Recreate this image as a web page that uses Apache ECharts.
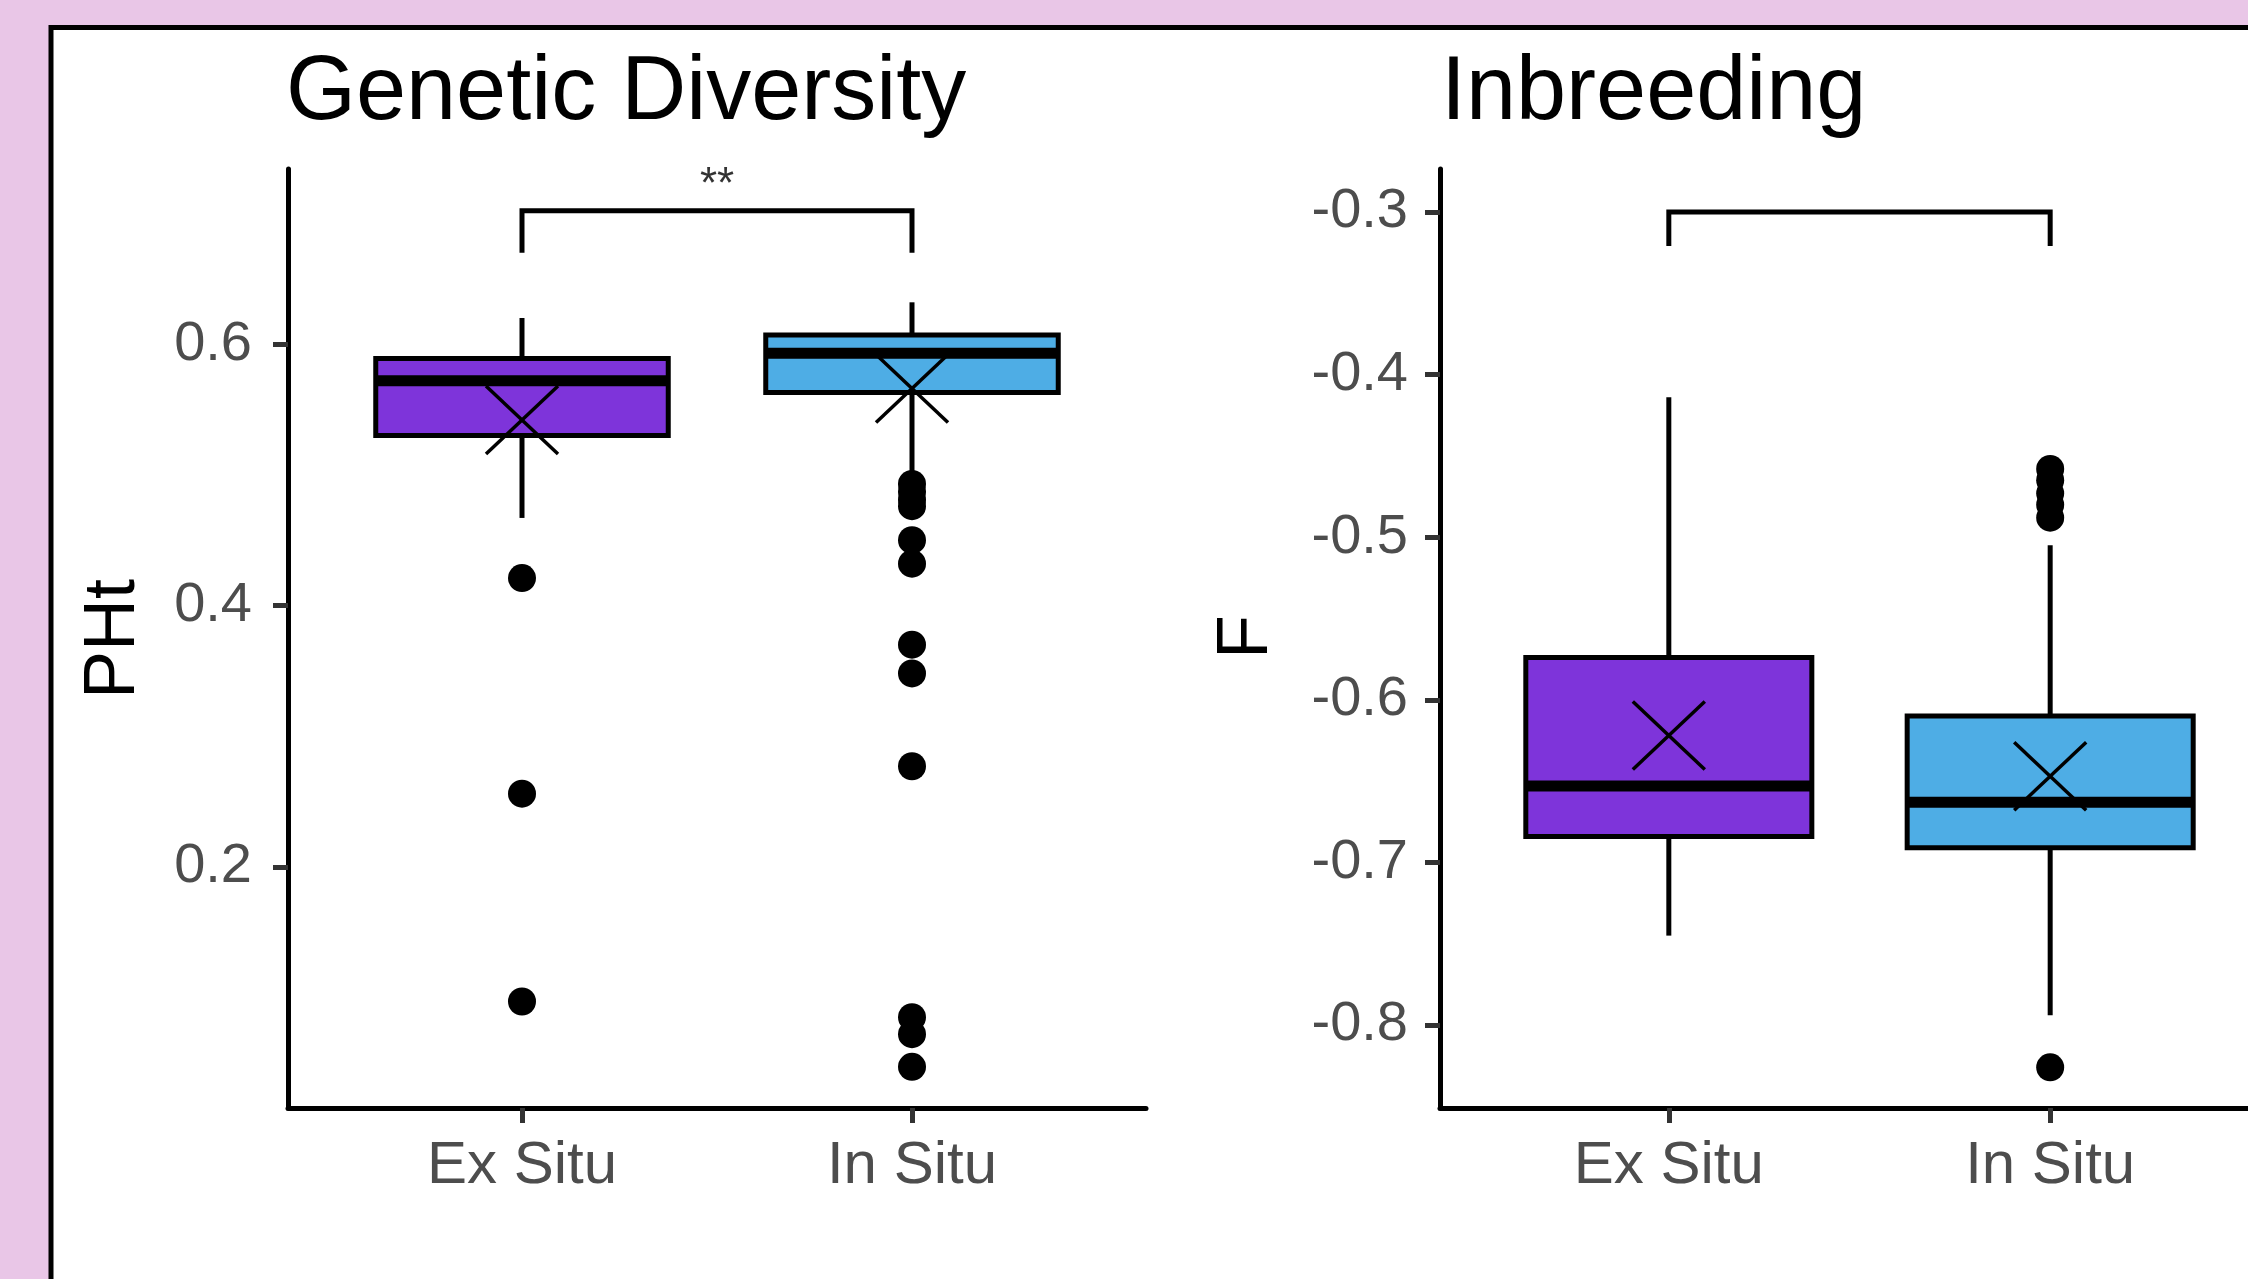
<!DOCTYPE html>
<html>
<head>
<meta charset="utf-8">
<script src="https://cdn.jsdelivr.net/npm/echarts@6/dist/echarts.min.js"></script>
<style>
html,body{margin:0;padding:0;background:#E9C6E7;overflow:hidden;width:2248px;height:1279px;}
#chart{width:2300px;height:1279px;}
</style>
</head>
<body>
<div id="chart"></div>
<script>
// ---------- data ----------
const categories = ['Ex Situ', 'In Situ'];
const categoryPos = [1, 2];

// [min whisker, Q1, median, Q3, max whisker]
const phtStats = [
  [0.467, 0.530, 0.572, 0.589, 0.620],
  [0.502, 0.563, 0.593, 0.607, 0.632]
];
const phtMeans = [0.542, 0.566];
const phtOutliersExSitu = [0.421, 0.256, 0.097];
const phtOutliersInSitu = [0.493, 0.487, 0.481, 0.476, 0.450, 0.432, 0.370, 0.348, 0.277, 0.085, 0.072, 0.047];
const phtTicks = [0.2, 0.4, 0.6];
const phtRange = [0.0155, 0.734];
const phtBracket = [0.670, 0.702];   // [leg end, bar]
const phtSignif = '**';
const phtSignifY = 0.721;

const fStats = [
  [-0.745, -0.684, -0.653, -0.574, -0.414],
  [-0.794, -0.691, -0.663, -0.610, -0.505]
];
const fMeans = [-0.622, -0.647];
const fOutliersExSitu = [];
const fOutliersInSitu = [-0.458, -0.465, -0.473, -0.480, -0.488, -0.826];
const fTicks = [-0.8, -0.7, -0.6, -0.5, -0.4, -0.3];
const fRange = [-0.851, -0.2736];
const fBracket = [-0.321, -0.300];

const boxColors = ['#7E34DA', '#4EADE5'];
const titles = ['Genetic Diversity', 'Inbreeding'];
const yTitles = ['PHt', 'F'];

// ---------- helpers ----------
const FONT = "'Liberation Sans', Arial, Helvetica, sans-serif";
const HALF_BOX = 0.375;

function boxRender(params, api) {
  const x = api.value(0);
  const lo = api.value(1), q1 = api.value(2), md = api.value(3), q3 = api.value(4), hi = api.value(5);
  const tl = api.coord([x - HALF_BOX, q3]);
  const br = api.coord([x + HALF_BOX, q1]);
  const pHi = api.coord([x, hi]), pQ3 = api.coord([x, q3]);
  const pQ1 = api.coord([x, q1]), pLo = api.coord([x, lo]);
  const mL = api.coord([x - HALF_BOX, md]), mR = api.coord([x + HALF_BOX, md]);
  return {
    type: 'group',
    children: [
      {type: 'line', shape: {x1: pHi[0], y1: pHi[1], x2: pQ3[0], y2: pQ3[1]}, style: {stroke: '#000', lineWidth: 5}},
      {type: 'line', shape: {x1: pQ1[0], y1: pQ1[1], x2: pLo[0], y2: pLo[1]}, style: {stroke: '#000', lineWidth: 5}},
      {type: 'rect', shape: {x: tl[0], y: tl[1], width: br[0] - tl[0], height: br[1] - tl[1]},
        style: {fill: boxColors[params.dataIndex], stroke: '#000', lineWidth: 5}},
      {type: 'line', shape: {x1: mL[0], y1: mL[1], x2: mR[0], y2: mR[1]}, style: {stroke: '#000', lineWidth: 11}}
    ]
  };
}

function meanRender(params, api) {
  const p = api.coord([api.value(0), api.value(1)]);
  const dx = 36, dy = 34;
  return {
    type: 'group',
    children: [
      {type: 'line', shape: {x1: p[0] - dx, y1: p[1] - dy, x2: p[0] + dx, y2: p[1] + dy}, style: {stroke: '#000', lineWidth: 3.5}},
      {type: 'line', shape: {x1: p[0] - dx, y1: p[1] + dy, x2: p[0] + dx, y2: p[1] - dy}, style: {stroke: '#000', lineWidth: 3.5}}
    ]
  };
}

function statsData(stats) { return stats.map((s, i) => [categoryPos[i]].concat(s)); }
function meansData(m) { return m.map((v, i) => [categoryPos[i], v]); }
function outlierData(ex, ins) { return ex.map(v => [categoryPos[0], v]).concat(ins.map(v => [categoryPos[1], v])); }
function bracketData(b) { return [[categoryPos[0], b[0]], [categoryPos[0], b[1]], [categoryPos[1], b[1]], [categoryPos[1], b[0]]]; }

function xAxisCfg(i) {
  return {
    type: 'value', gridIndex: i, min: 0.4, max: 2.6,
    splitLine: {show: false},
    axisLine: {show: true, onZero: false, lineStyle: {color: '#000', width: 5}},
    axisTick: {show: true, customValues: categoryPos, length: 15, lineStyle: {color: '#333', width: 5}},
    axisLabel: {customValues: categoryPos, formatter: v => categories[Math.round(v) - 1],
      fontSize: 60, color: '#4d4d4d', margin: 28, fontFamily: FONT}
  };
}
function yAxisCfg(i, range, ticks, margin) {
  return {
    type: 'value', gridIndex: i, min: range[0], max: range[1],
    splitLine: {show: false},
    axisLine: {show: true, onZero: false, lineStyle: {color: '#000', width: 5}},
    axisTick: {show: true, customValues: ticks, length: 15, lineStyle: {color: '#333', width: 5}},
    axisLabel: {customValues: ticks, formatter: v => v.toFixed(1),
      fontSize: 56, color: '#4d4d4d', margin: margin, fontFamily: FONT}
  };
}

const chart = echarts.init(document.getElementById('chart'), null, {renderer: 'canvas'});
chart.setOption({
  backgroundColor: '#E9C6E7',
  animation: false,
  graphic: [
    {type: 'rect', z: -10, shape: {x: 51, y: 27.5, width: 2400, height: 1400},
      style: {fill: '#fff', stroke: '#000', lineWidth: 5}},
    {type: 'text', x: 114, y: 639, rotation: Math.PI / 2,
      style: {text: yTitles[0], font: '72px ' + FONT, fill: '#000', textAlign: 'center', textVerticalAlign: 'middle'}},
    {type: 'text', x: 1247, y: 637, rotation: Math.PI / 2,
      style: {text: yTitles[1], font: '72px ' + FONT, fill: '#000', textAlign: 'center', textVerticalAlign: 'middle'}}
  ],
  title: [
    {text: titles[0], left: 286, top: 49, padding: 0,
      textStyle: {fontSize: 90, fontWeight: 'normal', color: '#000', fontFamily: FONT}},
    {text: titles[1], left: 1441, top: 49, padding: 0,
      textStyle: {fontSize: 90, fontWeight: 'normal', color: '#000', fontFamily: FONT}}
  ],
  grid: [
    {left: 288, top: 169, width: 858, height: 939, containLabel: false},
    {left: 1440, top: 169, width: 839, height: 939, containLabel: false}
  ],
  xAxis: [xAxisCfg(0), xAxisCfg(1)],
  yAxis: [yAxisCfg(0, phtRange, phtTicks, 36), yAxisCfg(1, fRange, fTicks, 32)],
  series: [
    // left panel
    {type: 'custom', xAxisIndex: 0, yAxisIndex: 0, renderItem: boxRender,
      encode: {x: 0, y: [1, 2, 3, 4, 5]}, data: statsData(phtStats), z: 2},
    {type: 'scatter', xAxisIndex: 0, yAxisIndex: 0, data: outlierData(phtOutliersExSitu, phtOutliersInSitu),
      symbol: 'circle', symbolSize: 28, itemStyle: {color: '#000', opacity: 1}, z: 3},
    {type: 'custom', xAxisIndex: 0, yAxisIndex: 0, renderItem: meanRender,
      encode: {x: 0, y: 1}, data: meansData(phtMeans), z: 4},
    {type: 'line', xAxisIndex: 0, yAxisIndex: 0, data: bracketData(phtBracket), symbol: 'none',
      lineStyle: {color: '#000', width: 5, cap: 'butt', join: 'miter'}, z: 4},
    {type: 'scatter', xAxisIndex: 0, yAxisIndex: 0, data: [[1.5, phtSignifY]], symbolSize: 1,
      itemStyle: {color: 'rgba(0,0,0,0)'},
      label: {show: true, position: 'inside', formatter: phtSignif, fontSize: 44, color: '#000', fontFamily: FONT}, z: 4},
    // right panel
    {type: 'custom', xAxisIndex: 1, yAxisIndex: 1, renderItem: boxRender,
      encode: {x: 0, y: [1, 2, 3, 4, 5]}, data: statsData(fStats), z: 2},
    {type: 'scatter', xAxisIndex: 1, yAxisIndex: 1, data: outlierData(fOutliersExSitu, fOutliersInSitu),
      symbol: 'circle', symbolSize: 28, itemStyle: {color: '#000', opacity: 1}, z: 3},
    {type: 'custom', xAxisIndex: 1, yAxisIndex: 1, renderItem: meanRender,
      encode: {x: 0, y: 1}, data: meansData(fMeans), z: 4},
    {type: 'line', xAxisIndex: 1, yAxisIndex: 1, data: bracketData(fBracket), symbol: 'none',
      lineStyle: {color: '#000', width: 5, cap: 'butt', join: 'miter'}, z: 4}
  ]
});
</script>
</body>
</html>
